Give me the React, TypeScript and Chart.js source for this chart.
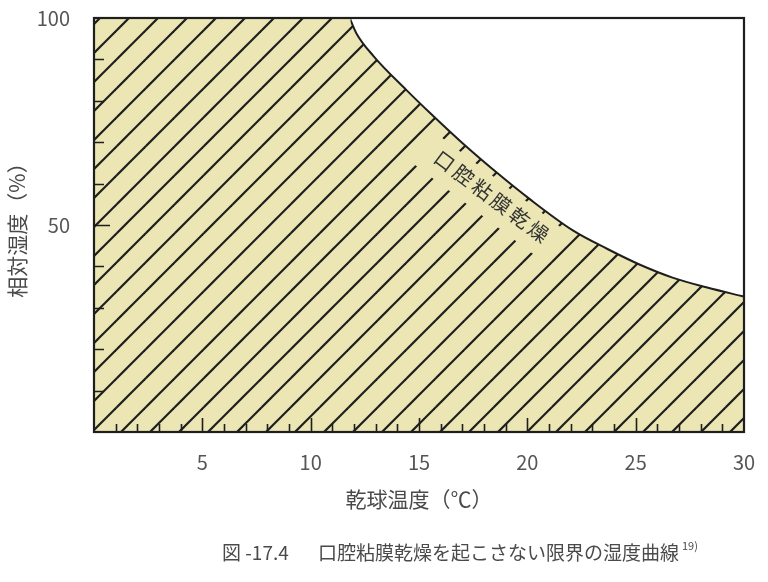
import React, { useEffect, useRef } from "react";
import { Chart, registerables } from "chart.js";

Chart.register(...registerables);

// ---- data ----
const flatX = [0, 11.85];
const flatY = [100, 100];
const curveX = [11.8, 12.1, 12.9, 14.4, 15.5, 17.0, 18.6, 20.1, 22.1, 23.7, 25.2, 26.7, 28.3, 30];
const curveY = [100, 96.4, 90.8, 82.7, 77.1, 69.8, 62.6, 56.3, 48.7, 44.2, 40.4, 37.3, 34.9, 32.7];

const xMin = 0;
const xMax = 30;
const yMin = 0;
const yMax = 100;
const xLabelStep = 5;
const yLabelStep = 50;
const xMinorStep = 1;
const yMinorStep = 10;

const regionLabel = "口腔粘膜乾燥";
const regionLabelAt = [18.35, 56.9];
const regionLabelAngleDeg = 37;

const xTitle = "乾球温度（℃）";
const yTitle = "相対湿度（%）";
const captionFig = "図 -17.4";
const captionText = "口腔粘膜乾燥を起こさない限界の湿度曲線";
const captionRef = "19)";

// ---- styles ----
const BEIGE = "#ebe6b3";
const INK = "#1e1e1e";
const TEXT = "#4a4a4a";
const JP = "'Noto Sans CJK JP', 'Noto Sans', sans-serif";
const NUM = "'Noto Sans CJK JP', 'Noto Sans', sans-serif";

function makeHatch(ctx: CanvasRenderingContext2D): CanvasPattern | string {
  const s = 29;
  const c = document.createElement("canvas");
  c.width = s;
  c.height = s;
  const g = c.getContext("2d");
  if (!g) return BEIGE;
  g.fillStyle = BEIGE;
  g.fillRect(0, 0, s, s);
  g.strokeStyle = INK;
  g.lineWidth = 2.2;
  for (const k of [-s, 0, s, 2 * s]) {
    const cc = 2 + k; // line: x + y = cc
    g.beginPath();
    g.moveTo(-10, cc + 10);
    g.lineTo(cc + 10, -10);
    g.stroke();
  }
  return ctx.createPattern(c, "repeat") || BEIGE;
}

const decorPlugin = {
  id: "decor",
  afterDatasetsDraw(chart: any) {
    const ctx: CanvasRenderingContext2D = chart.ctx;
    const { left, right, top, bottom } = chart.chartArea;
    const xs = chart.scales.x;
    const ys = chart.scales.y;

    // label along the curve, with cleared band behind it
    const cx = xs.getPixelForValue(regionLabelAt[0]);
    const cy = ys.getPixelForValue(regionLabelAt[1]);
    const a = (regionLabelAngleDeg * Math.PI) / 180;
    ctx.save();
    ctx.translate(cx, cy);
    ctx.rotate(a);
    ctx.fillStyle = BEIGE;
    ctx.fillRect(-85, -17, 165, 38);
    ctx.fillStyle = "#333";
    ctx.font = `20px ${JP}`;
    ctx.textAlign = "center";
    ctx.textBaseline = "middle";
    const pitch = 23.5;
    const chars = Array.from(regionLabel);
    chars.forEach((ch, i) => {
      ctx.fillText(ch, (i - (chars.length - 1) / 2) * pitch, 0);
    });
    ctx.restore();

    // inward ticks
    ctx.save();
    ctx.strokeStyle = INK;
    ctx.lineWidth = 1.6;
    ctx.beginPath();
    for (let v = xMin + xMinorStep; v < xMax; v += xMinorStep) {
      const px = Math.round(xs.getPixelForValue(v)) + 0.5;
      const len = v % xLabelStep === 0 ? 14 : 8;
      ctx.moveTo(px, bottom);
      ctx.lineTo(px, bottom - len);
    }
    for (let v = yMin + yMinorStep; v < yMax; v += yMinorStep) {
      const py = Math.round(ys.getPixelForValue(v)) + 0.5;
      const len = v % yLabelStep === 0 ? 16 : 10;
      ctx.moveTo(left, py);
      ctx.lineTo(left + len, py);
    }
    ctx.stroke();

    // frame
    ctx.lineWidth = 2.2;
    ctx.strokeStyle = INK;
    ctx.strokeRect(left, top, right - left, bottom - top);
    ctx.restore();
  },
  afterDraw(chart: any) {
    const ctx: CanvasRenderingContext2D = chart.ctx;
    ctx.save();
    ctx.fillStyle = TEXT;
    ctx.textBaseline = "middle";
    ctx.textAlign = "left";
    ctx.font = `19px ${JP}`;
    ctx.fillText(captionFig, 222, 553);
    ctx.fillText(captionText, 318, 553);
    const w = ctx.measureText(captionText).width;
    ctx.font = `11px ${JP}`;
    ctx.fillText(captionRef, 318 + w + 3, 546);
    ctx.restore();
  },
};

export default function App() {
  const ref = useRef<HTMLCanvasElement | null>(null);

  useEffect(() => {
    const canvas = ref.current;
    if (!canvas) return;
    const ctx = canvas.getContext("2d");
    if (!ctx) return;
    const hatch = makeHatch(ctx);

    const chart = new Chart(ctx, {
      type: "line",
      data: {
        datasets: [
          {
            data: flatX.map((x, i) => ({ x, y: flatY[i] })),
            borderWidth: 0,
            borderColor: "rgba(0,0,0,0)",
            backgroundColor: hatch as any,
            fill: "start",
            pointRadius: 0,
            tension: 0,
          },
          {
            data: curveX.map((x, i) => ({ x, y: curveY[i] })),
            borderWidth: 2,
            borderColor: INK,
            backgroundColor: hatch as any,
            fill: "start",
            pointRadius: 0,
            cubicInterpolationMode: "monotone",
          },
        ],
      },
      options: {
        animation: false,
        responsive: false,
        maintainAspectRatio: false,
        layout: { padding: { top: 18, right: 24, left: 0, bottom: 0 } },
        plugins: {
          legend: { display: false },
          tooltip: { enabled: false },
          title: { display: false },
        },
        scales: {
          x: {
            type: "linear",
            min: xMin,
            max: xMax,
            afterFit: (s: any) => {
              s.height = 150;
              s.paddingLeft = 0;
              s.paddingRight = 0;
            },
            grid: { display: false },
            border: { display: false },
            ticks: {
              stepSize: xLabelStep,
              padding: 10,
              color: "#555",
              font: { family: NUM, size: 20 },
              maxRotation: 0,
              callback: (v: any) => (v === 0 ? "" : String(v)),
            },
            title: {
              display: true,
              text: xTitle,
              color: TEXT,
              font: { family: JP, size: 21 },
              padding: { top: 0, bottom: 70 },
            },
          },
          y: {
            type: "linear",
            min: yMin,
            max: yMax,
            afterFit: (s: any) => {
              s.width = 94;
              s.paddingTop = 0;
              s.paddingBottom = 0;
            },
            grid: { display: false },
            border: { display: false },
            ticks: {
              stepSize: yLabelStep,
              padding: 16,
              color: "#555",
              font: { family: NUM, size: 20 },
              callback: (v: any) => (v === 0 ? "" : String(v)),
            },
            title: {
              display: true,
              text: yTitle,
              color: TEXT,
              font: { family: JP, size: 21 },
              padding: { top: 4, bottom: 0 },
            },
          },
        },
      },
      plugins: [decorPlugin],
    });

    return () => chart.destroy();
  }, []);

  return (
    <div style={{ position: "fixed", left: 0, top: 0, width: 768, height: 582, background: "#fff" }}>
      <canvas ref={ref} width={768} height={582} />
    </div>
  );
}
